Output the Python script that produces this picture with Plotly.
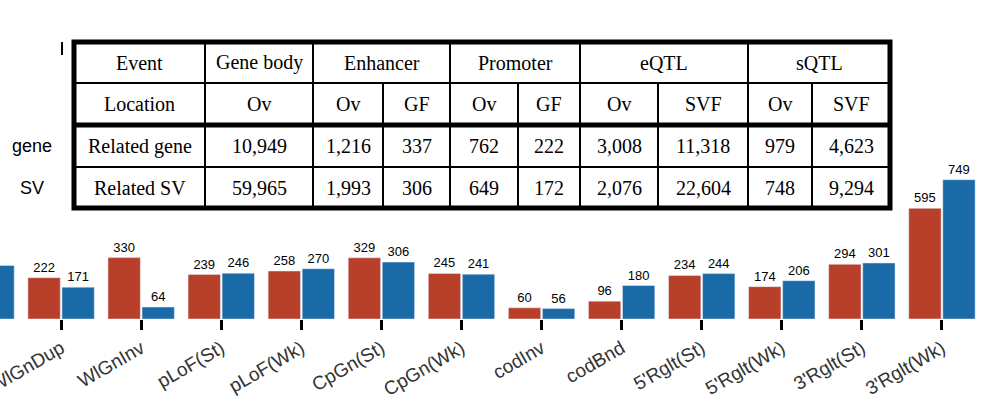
import plotly.graph_objects as go

W, H = 994, 409

categories = ["WlGnDel", "WlGnDup", "WlGnInv", "pLoF(St)", "pLoF(Wk)", "CpGn(St)", "CpGn(Wk)",
              "codInv", "codBnd", "5'Rglt(St)", "5'Rglt(Wk)", "3'Rglt(St)", "3'Rglt(Wk)"]
gene_counts = [300, 222, 330, 239, 258, 329, 245, 60, 96, 234, 174, 294, 595]
sv_counts = [288, 171, 64, 246, 270, 306, 241, 56, 180, 244, 206, 301, 749]

table_rows = [
    ["Event", "Gene body", "Enhancer", "", "Promoter", "", "eQTL", "", "sQTL", ""],
    ["Location", "Ov", "Ov", "GF", "Ov", "GF", "Ov", "SVF", "Ov", "SVF"],
    ["Related gene", "10,949", "1,216", "337", "762", "222", "3,008", "11,318", "979", "4,623"],
    ["Related SV", "59,965", "1,993", "306", "649", "172", "2,076", "22,604", "748", "9,294"],
]
col_edges = [74, 205, 313, 383, 450, 518, 580, 658, 748, 812, 890]
row_edges = [42, 83, 125, 167, 208]
row_names = ["gene", "SV"]


def px(x):
    return x / W


def py(y):
    return 1 - y / H


fig = go.Figure()
fig.add_trace(go.Bar(x=categories, y=gene_counts, marker_color="#b83f2a", text=gene_counts,
                     textposition="outside", textfont=dict(family="Liberation Sans", size=13, color="black"),
                     cliponaxis=False))
fig.add_trace(go.Bar(x=categories, y=sv_counts, marker_color="#1a6aa8", text=sv_counts,
                     textposition="outside", textfont=dict(family="Liberation Sans", size=13, color="black"),
                     cliponaxis=False))

shapes = []
annotations = []
thin = dict(color="black", width=2)
thick = dict(color="black", width=5)
# outer frame
shapes.append(dict(type="rect", xref="paper", yref="paper", x0=px(col_edges[0]), x1=px(col_edges[-1]),
                   y0=py(row_edges[0]), y1=py(row_edges[-1]), line=thick, fillcolor="white", layer="above"))
for i, y in enumerate(row_edges[1:-1], start=1):
    shapes.append(dict(type="line", xref="paper", yref="paper", x0=px(col_edges[0]), x1=px(col_edges[-1]),
                       y0=py(y), y1=py(y), line=thick if i == 2 else thin, layer="above"))
merged = {3, 5, 7, 9}
for j, x in enumerate(col_edges[1:-1], start=1):
    top = row_edges[1] if j in merged else row_edges[0]
    shapes.append(dict(type="line", xref="paper", yref="paper", x0=px(x), x1=px(x),
                       y0=py(top), y1=py(row_edges[-1]), line=thin, layer="above"))
for r, row in enumerate(table_rows):
    for c, txt in enumerate(row):
        if not txt:
            continue
        x0 = col_edges[c]
        x1 = col_edges[c + 2] if (r == 0 and c >= 2) else col_edges[c + 1]
        annotations.append(dict(xref="paper", yref="paper", x=px((x0 + x1) / 2), y=py((row_edges[r] + row_edges[r + 1]) / 2),
                                xanchor="center", yanchor="middle", text=txt, showarrow=False,
                                font=dict(family="Liberation Serif", size=20, color="black")))
for k, name in enumerate(row_names):
    annotations.append(dict(xref="paper", yref="paper", x=px(32), y=py((row_edges[k + 2] + row_edges[k + 3]) / 2),
                            xanchor="center", yanchor="middle", text=name, showarrow=False,
                            font=dict(family="Liberation Sans", size=18, color="black")))
shapes.append(dict(type="line", xref="paper", yref="paper", x0=px(62), x1=px(62), y0=py(42), y1=py(55),
                   line=dict(color="black", width=2)))

fig.update_layout(
    width=W, height=H, margin=dict(l=0, r=0, t=0, b=0, autoexpand=False),
    paper_bgcolor="white", plot_bgcolor="white", showlegend=False,
    barmode="group", bargap=0.15, bargroupgap=0.05,
    shapes=shapes, annotations=annotations,
    xaxis=dict(range=[0.237, 12.65], tickangle=-30, ticks="outside", ticklen=10, tickwidth=3,
               tickcolor="black", showline=False, showgrid=False, automargin=False,
               tickfont=dict(family="Liberation Sans", size=19, color="#333333")),
    yaxis=dict(domain=[90 / H, 1], range=[0, 319 / 0.186], visible=False, automargin=False),
)
# drop the browser's default body margin so the figure sits flush in the window
fig.write_html("out.html", config={"displayModeBar": False},
               post_script="document.body.style.margin = '0';")
